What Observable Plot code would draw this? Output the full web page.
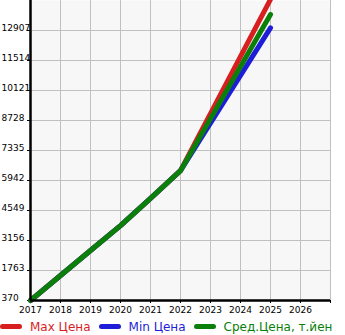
<!DOCTYPE html>
<html>
<head>
<meta charset="utf-8">
<script src="https://cdn.jsdelivr.net/npm/d3@7"></script>
<script src="https://cdn.jsdelivr.net/npm/@observablehq/plot@0.6"></script>
<style>
  body { margin: 0; background: #fff; font-family: "DejaVu Sans", sans-serif; }
  #legend { display: flex; align-items: center; height: 17px; font-size: 12px; white-space: nowrap; overflow: hidden; width: 345px; }
  .item { display: flex; align-items: center; margin-right: 8px; }
  .sw { width: 22px; height: 5px; border-radius: 3px; margin-right: 8px; }
</style>
</head>
<body>
<div id="chart"></div>
<div id="legend"></div>
<script>
const years = [2017, 2018, 2019, 2020, 2021, 2022, 2025];
const maxPrice = [370, 1530, 2690, 3850, 5110, 6400, 14350];
const minPrice = [370, 1530, 2690, 3850, 5110, 6400, 13030];
const avgPrice = [370, 1530, 2690, 3850, 5110, 6400, 13650];
const yTicks = [370, 1763, 3156, 4549, 5942, 7335, 8728, 10121, 11514, 12907];
const xTicks = [2017, 2018, 2019, 2020, 2021, 2022, 2023, 2024, 2025, 2026, 2027];
const seriesNames = ["Max Цена", "Min Цена", "Сред.Цена, т.йен"];
const seriesColors = ["#d81e1e", "#1e1ed8", "#0a800a"];

const seriesValues = [maxPrice, minPrice, avgPrice];
const rows = [];
seriesNames.forEach((name, i) => {
  years.forEach((yr, j) => rows.push({ series: name, year: yr, value: seriesValues[i][j] }));
});

const chart = Plot.plot({
  width: 345,
  height: 318,
  marginTop: 0,
  marginLeft: 30,
  marginRight: 15,
  marginBottom: 18,
  style: { fontFamily: "DejaVu Sans", fontSize: "9px", background: "#fff", overflow: "visible" },
  x: { domain: [2017, 2027], axis: null },
  y: { domain: [370, 14300], axis: null },
  marks: [
    Plot.frame({ fill: "#f7f7f7", stroke: null }),
    Plot.gridX(xTicks.slice(1), { stroke: "#c0c0c0", strokeOpacity: 1 }),
    Plot.gridY(yTicks.slice(1), { stroke: "#c0c0c0", strokeOpacity: 1 }),
    Plot.axisX(xTicks, {
      tickSize: 3, tickPadding: 3, stroke: "#000", label: null,
      tickFormat: d => d <= 2026 ? String(d) : "",
      fontSize: 9, fill: "#000"
    }),
    Plot.axisY(yTicks, {
      anchor: "left", tickSize: 3, tickPadding: 0, label: null,
      tickFormat: () => "", stroke: "#000"
    }),
    Plot.text(yTicks, {
      y: d => d, text: d => String(d), frameAnchor: "left", dx: -29,
      textAnchor: "start", lineAnchor: "bottom", fontSize: 9, fill: "#000"
    }),
    Plot.line(rows, {
      x: "year", y: "value", z: "series",
      stroke: d => seriesColors[seriesNames.indexOf(d.series)],
      strokeWidth: 5, strokeLinecap: "round", strokeLinejoin: "round", clip: false
    }),
    Plot.ruleX([2017], { stroke: "#000", strokeWidth: 2.5 }),
    Plot.ruleY([370], { stroke: "#000", strokeWidth: 2.5 })
  ]
});
document.getElementById("chart").appendChild(chart);

const legend = document.getElementById("legend");
seriesNames.forEach((name, i) => {
  const item = document.createElement("div");
  item.className = "item";
  const sw = document.createElement("div");
  sw.className = "sw";
  sw.style.background = seriesColors[i];
  const t = document.createElement("span");
  t.textContent = name;
  t.style.color = seriesColors[i];
  item.appendChild(sw);
  item.appendChild(t);
  legend.appendChild(item);
});
</script>
</body>
</html>
